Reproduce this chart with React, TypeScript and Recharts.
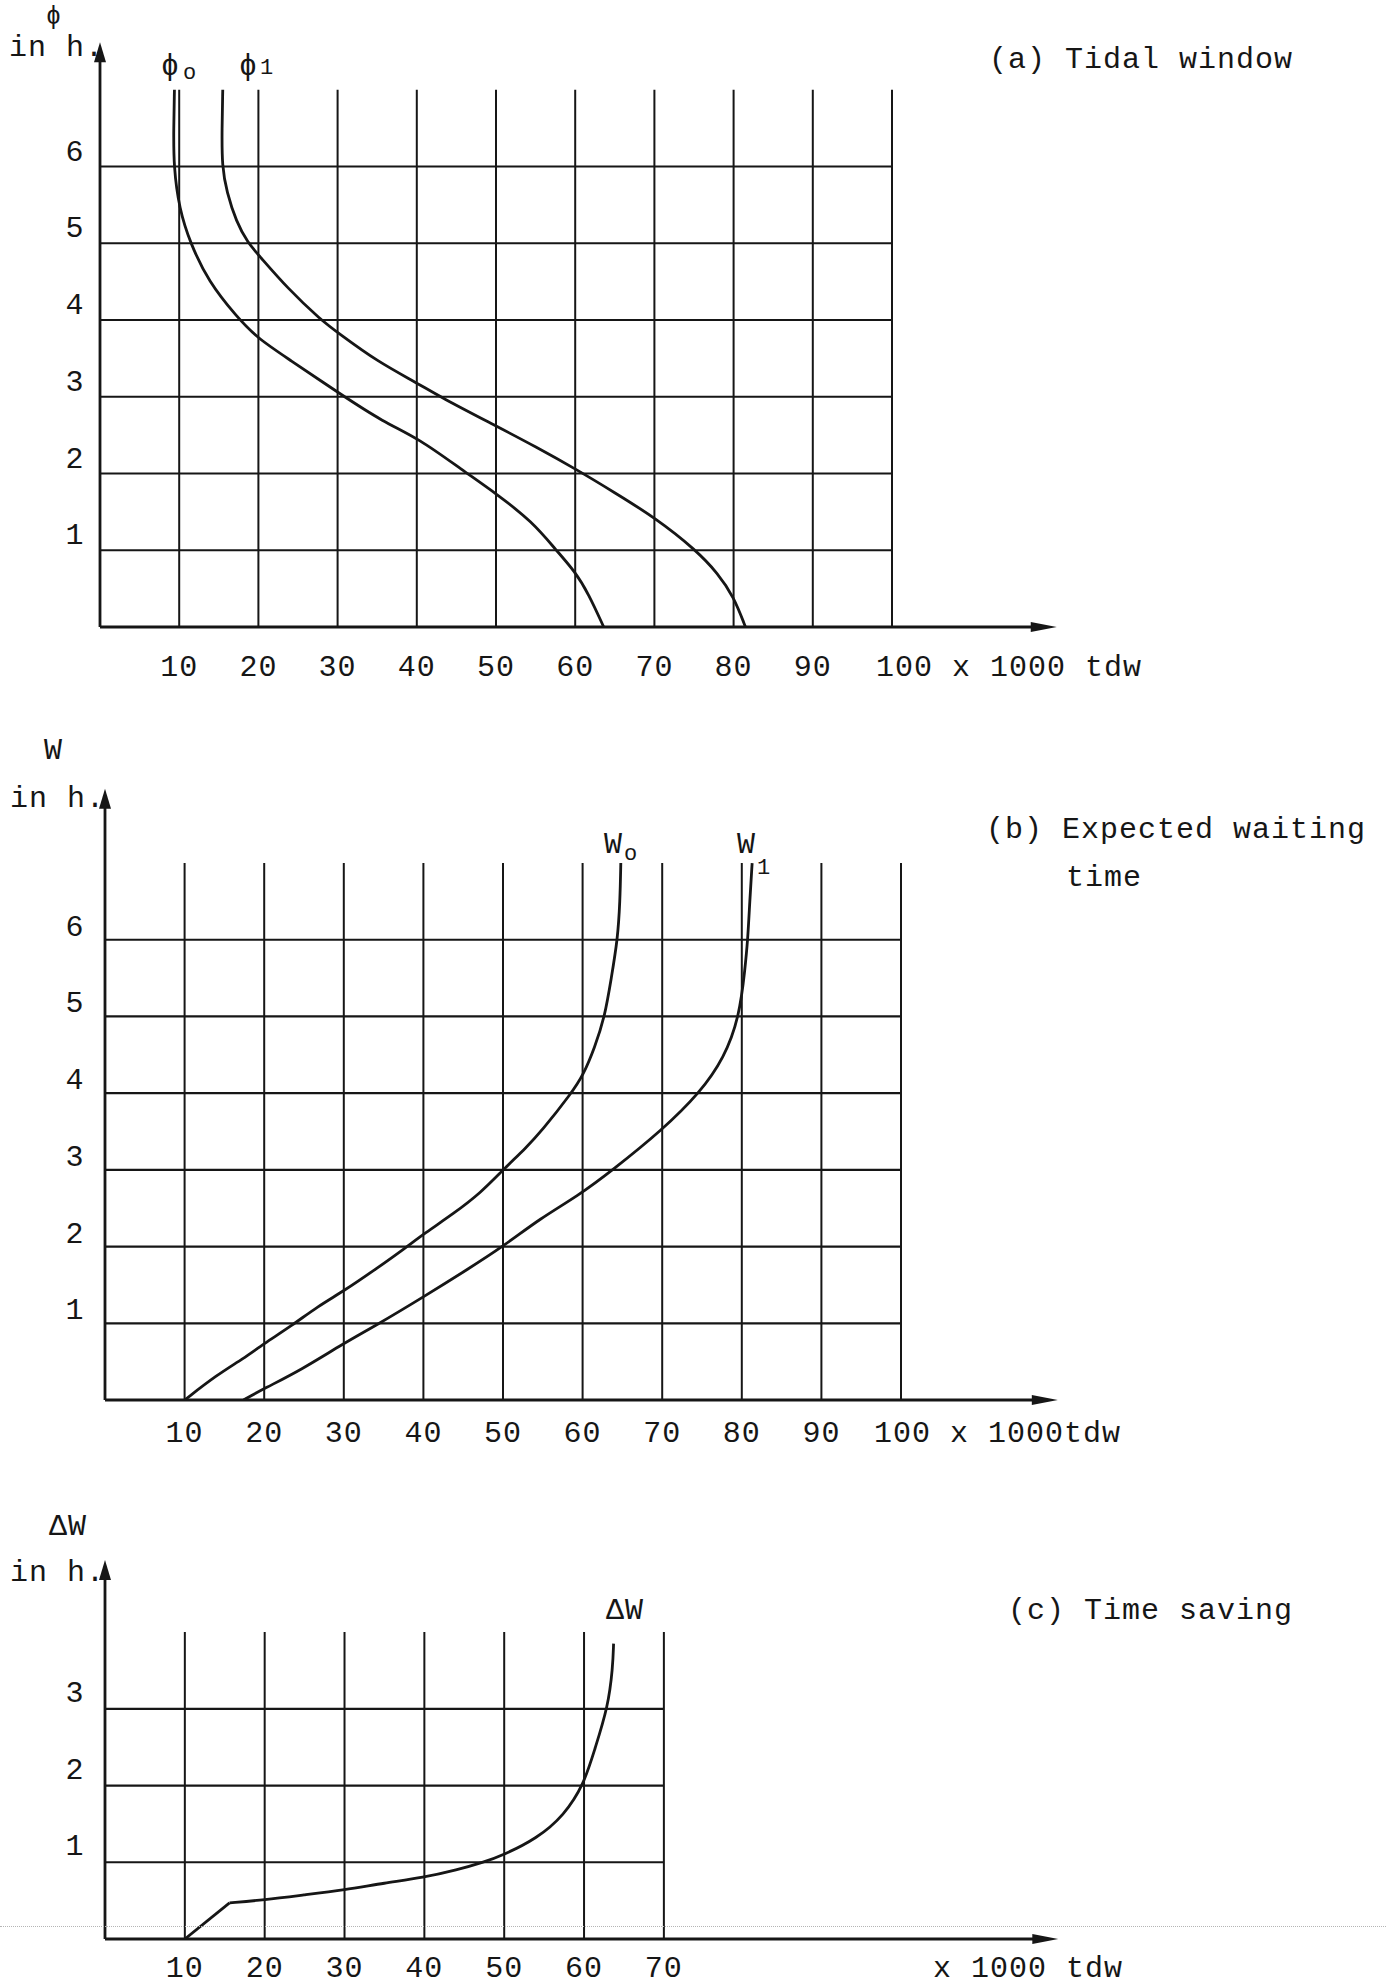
import React from 'react';
import { LineChart, Line, XAxis, YAxis, ReferenceLine, ReferenceDot } from 'recharts';

// x axis: ship size in 1000 tdw, y axes: hours
const tdwTicks = [10, 20, 30, 40, 50, 60, 70, 80, 90, 100];
const savingTdwTicks = [10, 20, 30, 40, 50, 60, 70];
const hourTicks = [1, 2, 3, 4, 5, 6];
const savingHourTicks = [1, 2, 3];

// (a) tidal window (ordered bottom to top)
const phi0 = [
  { x: 63.6, y: 0 }, { x: 61.7, y: 0.43 }, { x: 60.0, y: 0.72 }, { x: 57.6, y: 1.0 },
  { x: 54.6, y: 1.37 }, { x: 50.0, y: 1.74 }, { x: 45.8, y: 2.04 }, { x: 40.2, y: 2.46 },
  { x: 35.8, y: 2.67 }, { x: 30.4, y: 3.03 }, { x: 23.7, y: 3.5 }, { x: 19.9, y: 3.76 },
  { x: 17.2, y: 4.05 }, { x: 13.7, y: 4.5 }, { x: 11.4, y: 5.0 },
  { x: 10.0, y: 5.45 }, { x: 9.3, y: 6.0 }, { x: 9.3, y: 6.5 }, { x: 9.4, y: 7.0 },
];
const phi1 = [
  { x: 81.5, y: 0 }, { x: 80.0, y: 0.4 }, { x: 78.0, y: 0.7 }, { x: 75.3, y: 1.0 },
  { x: 70.0, y: 1.43 }, { x: 65.0, y: 1.75 }, { x: 60.2, y: 2.05 }, { x: 55.0, y: 2.35 },
  { x: 50.0, y: 2.62 }, { x: 42.9, y: 3.0 }, { x: 40.2, y: 3.17 }, { x: 35.0, y: 3.46 },
  { x: 30.1, y: 3.83 }, { x: 27.9, y: 4.0 }, { x: 23.7, y: 4.41 }, { x: 20.0, y: 4.85 },
  { x: 18.7, y: 5.0 }, { x: 17.2, y: 5.28 }, { x: 16.0, y: 5.67 }, { x: 15.4, y: 6.0 },
  { x: 15.4, y: 6.5 }, { x: 15.5, y: 7.0 },
];

// (b) expected waiting time
const w0 = [
  { x: 10.0, y: 0 }, { x: 14.1, y: 0.33 }, { x: 17.4, y: 0.54 }, { x: 19.9, y: 0.73 },
  { x: 23.5, y: 0.97 }, { x: 26.7, y: 1.22 }, { x: 30.0, y: 1.42 }, { x: 34.2, y: 1.72 },
  { x: 37.7, y: 1.98 }, { x: 40.1, y: 2.17 }, { x: 43.8, y: 2.43 }, { x: 47.2, y: 2.7 },
  { x: 50.0, y: 3.0 }, { x: 53.0, y: 3.3 }, { x: 54.8, y: 3.5 }, { x: 58.6, y: 4.0 },
  { x: 60.1, y: 4.24 }, { x: 61.5, y: 4.59 }, { x: 62.8, y: 5.0 }, { x: 63.6, y: 5.5 },
  { x: 64.4, y: 6.0 }, { x: 64.7, y: 6.5 }, { x: 64.8, y: 7.0 },
];
const w1 = [
  { x: 17.4, y: 0 }, { x: 20.0, y: 0.15 }, { x: 24.6, y: 0.39 }, { x: 30.0, y: 0.74 },
  { x: 34.0, y: 0.97 }, { x: 40.1, y: 1.35 }, { x: 45.5, y: 1.7 }, { x: 50.0, y: 2.0 },
  { x: 54.7, y: 2.37 }, { x: 59.4, y: 2.66 }, { x: 63.8, y: 3.0 }, { x: 70.0, y: 3.52 },
  { x: 74.7, y: 4.0 }, { x: 77.8, y: 4.46 }, { x: 79.7, y: 5.0 }, { x: 80.4, y: 5.62 },
  { x: 80.75, y: 6.0 }, { x: 81.0, y: 6.5 }, { x: 81.3, y: 7.0 },
];

// (c) time saving: straight ramp, then the smooth part
const deltaWRamp = [{ x: 10.0, y: 0 }, { x: 15.6, y: 0.47 }];
const deltaW = [
  { x: 15.6, y: 0.47 }, { x: 19.9, y: 0.51 }, { x: 24.9, y: 0.575 }, { x: 30.0, y: 0.64 },
  { x: 35.0, y: 0.73 }, { x: 39.9, y: 0.8 }, { x: 44.1, y: 0.9 }, { x: 47.4, y: 1.0 },
  { x: 49.8, y: 1.09 }, { x: 54.1, y: 1.31 }, { x: 57.5, y: 1.61 }, { x: 60.0, y: 2.02 },
  { x: 61.3, y: 2.46 }, { x: 63.0, y: 3.02 }, { x: 63.6, y: 3.54 }, { x: 63.7, y: 3.85 },
];

const INK = '#161616';
const FONT = '"Liberation Mono", "DejaVu Sans Mono", monospace';
const PAGE_W = 1386;
const X_MAX = 125;

const svgText = {
  fontFamily: FONT,
  fontSize: 30,
  fill: INK,
  style: { letterSpacing: '1px' },
};

type Pt = { x: number; y: number };

interface PanelProps {
  top: number;
  height: number;
  axisLeft: number;
  unitX: number;
  plotTop: number;
  axisBottom: number;
  yMax: number;
  xArrow: number;
  yArrow: number;
  xTicks: number[];
  yTicks: number[];
  gridTop: number;
  gridRight: number;
  xLabelDy: number;
  yLabelDy: number;
  lastLabel?: string;
  lastLabelShift?: number;
  curves: Pt[][];
  straight?: Pt[][];
}

function Panel(p: PanelProps) {
  const plotWidth = Math.round(X_MAX * p.unitX);
  const last = p.xTicks[p.xTicks.length - 1];

  const xTick = (t: any) => {
    const v = t.payload.value;
    const y = p.axisBottom + p.xLabelDy;
    if (p.lastLabel && v === last) {
      return (
        <text x={t.x + (p.lastLabelShift ?? 0)} y={y} textAnchor="start" {...svgText}>
          {p.lastLabel}
        </text>
      );
    }
    return (
      <text x={t.x} y={y} textAnchor="middle" {...svgText}>
        {v}
      </text>
    );
  };

  const yTick = (t: any) => (
    <text x={75} y={t.y + p.yLabelDy} textAnchor="middle" {...svgText}>
      {t.payload.value}
    </text>
  );

  const xHead = (s: any) => (
    <polygon points={`${s.cx},${s.cy} ${s.cx - 26},${s.cy - 5} ${s.cx - 26},${s.cy + 5}`} fill={INK} />
  );
  const yHead = (s: any) => (
    <polygon points={`${s.cx},${s.cy} ${s.cx - 6},${s.cy + 20} ${s.cx + 6},${s.cy + 20}`} fill={INK} />
  );

  return (
    <div style={{ position: 'absolute', left: 0, top: p.top }}>
      <LineChart
        width={PAGE_W}
        height={p.height}
        style={{ overflow: 'visible' }}
        margin={{ top: p.plotTop, right: PAGE_W - p.axisLeft - plotWidth, bottom: 0, left: 0 }}
      >
        <XAxis
          type="number"
          dataKey="x"
          domain={[0, X_MAX]}
          ticks={p.xTicks}
          interval={0}
          height={p.height - p.axisBottom}
          axisLine={false}
          tickLine={false}
          tickSize={0}
          tick={xTick}
          allowDataOverflow
        />
        <YAxis
          type="number"
          domain={[0, p.yMax]}
          ticks={p.yTicks}
          interval={0}
          width={p.axisLeft}
          axisLine={false}
          tickLine={false}
          tickSize={0}
          tick={yTick}
          allowDataOverflow
        />
        {p.xTicks.map((v) => (
          <ReferenceLine
            key={'v' + v}
            segment={[{ x: v, y: 0 }, { x: v, y: p.gridTop }]}
            stroke={INK}
            strokeWidth={2}
            ifOverflow="visible"
          />
        ))}
        {p.yTicks.map((v) => (
          <ReferenceLine
            key={'h' + v}
            segment={[{ x: 0, y: v }, { x: p.gridRight, y: v }]}
            stroke={INK}
            strokeWidth={2.2}
            ifOverflow="visible"
          />
        ))}
        <ReferenceLine segment={[{ x: 0, y: 0 }, { x: p.xArrow - 2, y: 0 }]} stroke={INK} strokeWidth={2.8} ifOverflow="visible" />
        <ReferenceLine segment={[{ x: 0, y: 0 }, { x: 0, y: p.yArrow - 0.1 }]} stroke={INK} strokeWidth={2.8} ifOverflow="visible" />
        <ReferenceDot x={p.xArrow} y={0} r={1} shape={xHead} ifOverflow="visible" />
        <ReferenceDot x={0} y={p.yArrow} r={1} shape={yHead} ifOverflow="visible" />
        {(p.straight ?? []).map((d, i) => (
          <Line
            key={'s' + i}
            data={d}
            dataKey="y"
            type="linear"
            stroke={INK}
            strokeWidth={2.8}
            dot={false}
            isAnimationActive={false}
          />
        ))}
        {p.curves.map((d, i) => (
          <Line
            key={'c' + i}
            data={d}
            dataKey="y"
            type="basis"
            stroke={INK}
            strokeWidth={2.8}
            dot={false}
            isAnimationActive={false}
          />
        ))}
      </LineChart>
    </div>
  );
}

function Note({ left, cy, size = 30, children }: { left: number; cy: number; size?: number; children: React.ReactNode }) {
  return (
    <div
      style={{
        position: 'absolute',
        left,
        top: cy - size / 2,
        fontSize: size,
        lineHeight: `${size}px`,
        letterSpacing: '1px',
        whiteSpace: 'pre',
        color: INK,
        fontFamily: FONT,
      }}
    >
      {children}
    </div>
  );
}

export default function App() {
  return (
    <div style={{ position: 'absolute', left: 0, top: 0, width: PAGE_W, height: 1988, background: '#fff', overflow: 'hidden' }}>
      {/* (a) Tidal window */}
      <Panel
        top={0}
        height={720}
        axisLeft={100}
        unitX={7.92}
        plotTop={13}
        axisBottom={627}
        yMax={8}
        xArrow={120.8}
        yArrow={7.62}
        xTicks={tdwTicks}
        yTicks={hourTicks}
        gridTop={7}
        gridRight={100}
        xLabelDy={49}
        yLabelDy={-6}
        lastLabel="100 x 1000 tdw"
        lastLabelShift={-16}
        curves={[phi0, phi1]}
      />
      <Note left={46} cy={17} size={25}>ϕ</Note>
      <Note left={9} cy={48}>in h.</Note>
      <Note left={989} cy={60}>(a) Tidal window</Note>
      <Note left={161} cy={67}>ϕ</Note>
      <Note left={183} cy={74} size={22}>o</Note>
      <Note left={239} cy={67}>ϕ</Note>
      <Note left={260} cy={69} size={22}>1</Note>

      {/* (b) Expected waiting time */}
      <Panel
        top={720}
        height={740}
        axisLeft={105}
        unitX={7.96}
        plotTop={28}
        axisBottom={680}
        yMax={8.5}
        xArrow={119.7}
        yArrow={7.97}
        xTicks={tdwTicks}
        yTicks={hourTicks}
        gridTop={7}
        gridRight={100}
        xLabelDy={42}
        yLabelDy={-4}
        lastLabel="100 x 1000tdw"
        lastLabelShift={-27}
        curves={[w0, w1]}
      />
      <Note left={44} cy={751}>W</Note>
      <Note left={10} cy={799}>in h.</Note>
      <Note left={986} cy={830}>(b) Expected waiting</Note>
      <Note left={1066} cy={878}>time</Note>
      <Note left={604} cy={845}>W</Note>
      <Note left={624} cy={855} size={22}>o</Note>
      <Note left={737} cy={845}>W</Note>
      <Note left={757} cy={869} size={22}>1</Note>

      {/* (c) Time saving */}
      <Panel
        top={1460}
        height={528}
        axisLeft={105}
        unitX={7.98}
        plotTop={57}
        axisBottom={479}
        yMax={5.5}
        xArrow={119.4}
        yArrow={4.94}
        xTicks={savingTdwTicks}
        yTicks={savingHourTicks}
        gridTop={4}
        gridRight={70}
        xLabelDy={38}
        yLabelDy={-7}
        curves={[deltaW]}
        straight={[deltaWRamp]}
      />
      <Note left={49} cy={1527}>ΔW</Note>
      <Note left={10} cy={1573}>in h.</Note>
      <Note left={606} cy={1611}>ΔW</Note>
      <Note left={1008} cy={1611}>(c) Time saving</Note>
      <Note left={933} cy={1969}>x 1000 tdw</Note>

      {/* faint dotted scan line across the bottom panel */}
      <div style={{ position: 'absolute', left: 0, top: 1926, width: PAGE_W, borderTop: '1px dotted #b5b5b5' }} />
    </div>
  );
}
